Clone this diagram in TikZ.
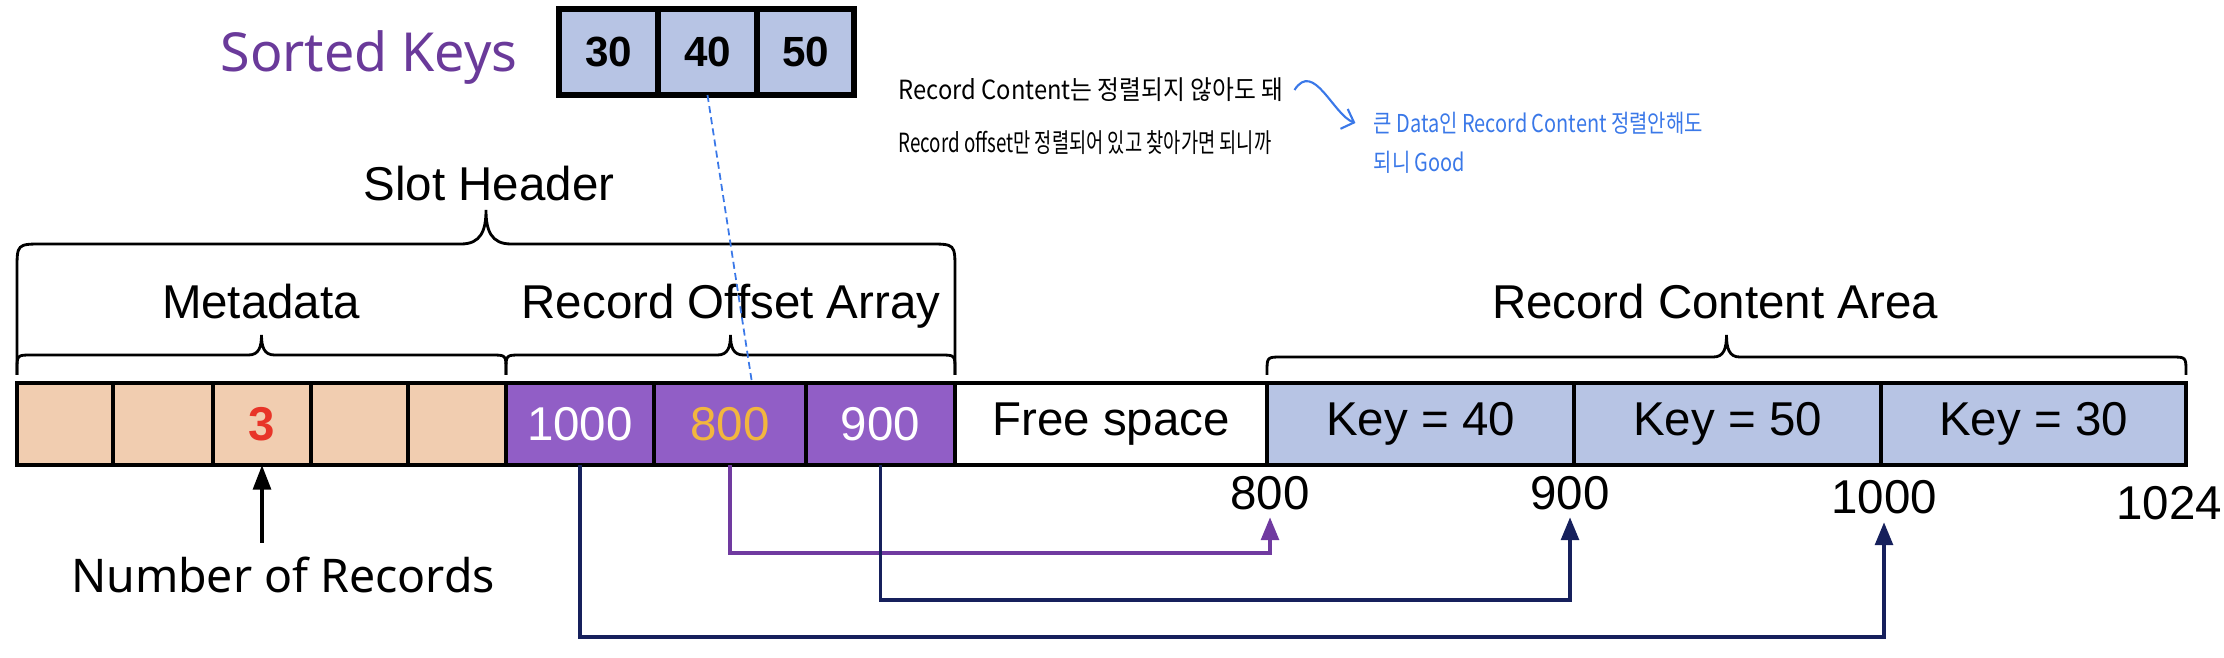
\documentclass[tikz,border=0pt]{standalone}
\usepackage{fontspec}
\setmainfont{Liberation Sans}
\newfontfamily\malgun{Noto Sans}
\newfontfamily\handko{Noto Sans CJK KR}
\usetikzlibrary{arrows.meta}

\definecolor{metafill}{RGB}{241,205,176}
\definecolor{offsetfill}{RGB}{145,94,198}
\definecolor{contentfill}{RGB}{183,196,228}
\definecolor{keyred}{RGB}{232,52,40}
\definecolor{keyorange}{RGB}{242,182,62}
\definecolor{pointerpurple}{RGB}{112,58,160}
\definecolor{pointernavy}{RGB}{22,32,92}
\definecolor{titlepurple}{RGB}{106,58,154}
\definecolor{noteblue}{RGB}{58,120,232}

\begin{document}
\begin{tikzpicture}[x=0.01cm,y=-0.01cm]
	\tikzset{
		cell/.style={draw,line width=1.1pt,minimum height=0.82cm,inner sep=0pt,outer sep=0pt,font=\fontsize{13.5}{16}\selectfont},
		key cell/.style={draw,line width=1.5pt,fill=contentfill,minimum height=0.86cm,inner sep=0pt,outer sep=0pt,font=\fontsize{12}{14}\selectfont\bfseries},
		part label/.style={font=\fontsize{13.5}{16}\selectfont,inner sep=0pt,anchor=base},
		offset label/.style={font=\fontsize{13.5}{16}\selectfont,inner sep=2pt,anchor=base},
		brace line/.style={line width=0.8pt},
		pointer/.style={line width=1.1pt,color=pointernavy,-{Triangle[length=6.5pt,width=5pt]}},
		note/.style={font=\handko\fontsize{7.5}{9}\selectfont,inner sep=0pt,anchor=west},
		blue note/.style={note,text=noteblue,font=\handko\fontsize{7}{8}\selectfont}
	}
	\useasboundingbox (0,0) rectangle (2224,658);

	% page layout
	\foreach \n/\l/\r/\f/\c/\t in {
		m1/17/113/metafill/black/{},m2/113/213/metafill/black/{},
		m3/213/311/metafill/keyred/\textbf{3},m4/311/408/metafill/black/{},
		m5/408/506/metafill/black/{},
		o1/506/654/offsetfill/white/1000,o2/654/806/offsetfill/keyorange/800,
		o3/806/955/offsetfill/white/900,
		fs/955/1267/white/black/Free space,
		c1/1267/1574/contentfill/black/Key = 40,
		c2/1574/1881/contentfill/black/Key = 50,
		c3/1881/2186/contentfill/black/Key = 30
	}{
		\pgfmathsetmacro\w{(\r-\l)*0.01}
		\node[cell,fill=\f,text=\c,minimum width=\w cm] (\n) at ({(\l+\r)/2},424) {\t};
	}

	% sorted keys
	\foreach \n/\l/\r/\t in {k1/559/658/30,k2/658/757/40,k3/757/854/50}{
		\pgfmathsetmacro\w{(\r-\l)*0.01}
		\node[key cell,minimum width=\w cm] (\n) at ({(\l+\r)/2},52) {\t};
	}
	\node[font=\malgun\fontsize{15.3}{18}\selectfont,text=titlepurple,inner sep=0pt,anchor=base] (sorted) at (369,72) {Sorted Keys};

	% braces
	\foreach \l/\r/\h/\tip/\rad/\half in {17/955/244/34/26/25,17/506/355/20/15/13,
		506/955/355/20/15/13,1267/2186/357/22/15/13}{
		\pgfmathsetmacro\m{(\l+\r)/2}
		\draw[brace line] (\l,375) -- (\l,{\h+\rad}) .. controls (\l,\h) .. ({\l+\rad},\h)
			-- ({\m-\half},\h) .. controls ({\m-0.2*\half},\h) and (\m,{\h-0.4*\tip}) .. (\m,{\h-\tip})
			.. controls (\m,{\h-0.4*\tip}) and ({\m+0.2*\half},\h) .. ({\m+\half},\h)
			-- ({\r-\rad},\h) .. controls (\r,\h) .. (\r,{\h+\rad}) -- (\r,375);
	}
	\node[part label] (slothdr) at (489,201) {Slot Header};
	\node[part label] (meta) at (261,319) {Metadata};
	\node[part label] (offarr) at (731,319) {Record Offset Array};
	\node[part label] (content) at (1715,319) {Record Content Area};

	% offsets under the page
	\node[offset label] (l800) at (1270,509) {800};
	\node[offset label] (l900) at (1570,509) {900};
	\node[offset label] (l1000) at (1884,514) {1000};
	\node[offset label] (l1024) at (2169,519) {1024};

	\draw[pointer,color=pointerpurple] (o2.south) -- ++(0,88) -| (l800.south);
	\draw[pointer] (o3.south) -- ++(0,135) -| (l900.south);
	\draw[pointer] (o1.south) -- ++(0,172) -| (l1000.south);

	\node[font=\malgun\fontsize{13.2}{16}\selectfont,inner sep=0pt,anchor=base] (nrec) at (283,593) {Number of Records};
	\draw[line width=1.2pt,-{Triangle[length=7pt,width=5pt]},shorten <=4pt] (nrec.north -| m3.south) -- (m3.south);

	% notes
	\draw[noteblue,line width=0.5pt,dash pattern=on 2pt off 1.2pt] (k2.south) -- ([xshift=0.22cm]o2.north);
	\node[note] (hw1) at (898,90) {\scalebox{0.9}[1]{Record Content는 정렬되지 않아도 돼}};
	\node[note] (hw2) at (898,143) {\scalebox{0.71}[1]{Record offset만 정렬되어 있고 찾아가면 되니까}};
	\node[blue note] (bn1) at (1373,123) {\scalebox{0.81}[1]{큰 Data인 Record Content 정렬안해도}};
	\node[blue note] (bn2) at (1373,162) {\scalebox{0.81}[1]{되니 Good}};
	\draw[noteblue,line width=0.6pt,-{Straight Barb[length=3pt]}] ([xshift=3pt]hw1.east)
		.. controls +(19,-30) and +(-22,-8) .. ([xshift=-5pt]bn1.west);
\end{tikzpicture}
\end{document}
